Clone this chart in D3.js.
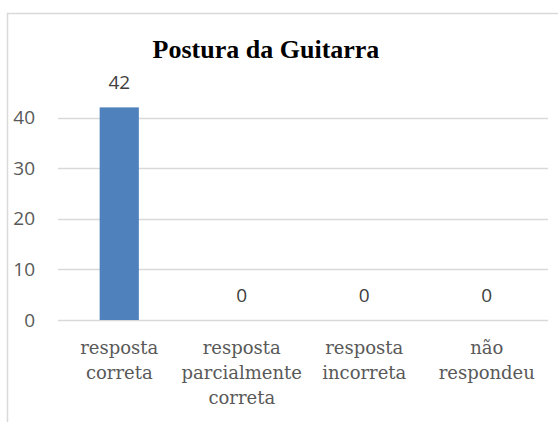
<!DOCTYPE html>
<html>
<head>
<meta charset="utf-8">
<script src="https://cdn.jsdelivr.net/npm/d3@7"></script>
<style>
  body { margin: 0; background: #fff; }
</style>
</head>
<body>
<div id="vis"></div>
<script>
var categories = [
  ['resposta', 'correta'],
  ['resposta', 'parcialmente', 'correta'],
  ['resposta', 'incorreta'],
  ['não', 'respondeu']
];
var values = [42, 0, 0, 0];
var yTicks = [0, 10, 20, 30, 40];
var title = 'Postura da Guitarra';

var width = 558,
  height = 422;

var svg = d3.select('#vis')
  .append('svg')
  .attr('width', width)
  .attr('height', height);

// chart frame (bottom and right fall outside the picture)
svg.append('path')
  .attr('d', 'M7.5,' + height + 'V13.5H' + width)
  .attr('fill', 'none')
  .attr('stroke', '#d9d9d9')
  .attr('stroke-width', 1.5);

var x_scale = d3.scaleBand()
  .domain(d3.range(categories.length))
  .range([58, 548])
  .paddingInner(0.68)
  .paddingOuter(0.34);

var y_scale = d3.scaleLinear()
  .domain([0, 40])
  .range([320, 117.5]);

// gridlines
svg.append('g')
  .selectAll('line')
  .data(yTicks)
  .enter()
  .append('line')
  .attr('x1', 58)
  .attr('x2', 548)
  .attr('y1', function(d) { return Math.round(y_scale(d)) + 0.5; })
  .attr('y2', function(d) { return Math.round(y_scale(d)) + 0.5; })
  .attr('stroke', '#d9d9d9')
  .attr('stroke-width', 1.5);

// y axis labels
var y_axis = d3.axisLeft(y_scale)
  .tickValues(yTicks)
  .tickSize(0)
  .tickPadding(23);

svg.append('g')
  .attr('class', 'y axis')
  .attr('transform', 'translate(58,0)')
  .call(y_axis)
  .call(function(g) { g.select('.domain').remove(); })
  .selectAll('text')
  .attr('fill', '#595959')
  .style('font-family', '"Open Sans", sans-serif')
  .style('font-size', '19px');

// bars
svg.selectAll('.bar')
  .data(values)
  .enter()
  .append('rect')
  .attr('class', 'bar')
  .attr('x', function(d, i) { return x_scale(i); })
  .attr('width', x_scale.bandwidth())
  .attr('y', function(d) { return y_scale(d); })
  .attr('height', function(d) { return y_scale(0) - y_scale(d); })
  .attr('fill', '#4f81bd');

// value labels
svg.selectAll('.val')
  .data(values)
  .enter()
  .append('text')
  .attr('class', 'val')
  .attr('x', function(d, i) { return x_scale(i) + x_scale.bandwidth() / 2; })
  .attr('y', function(d) { return y_scale(d) - 18; })
  .attr('text-anchor', 'middle')
  .attr('fill', '#404040')
  .style('font-family', '"Open Sans", sans-serif')
  .style('font-size', '19px')
  .text(function(d) { return d; });

// category labels
var cats = svg.selectAll('.cat')
  .data(categories)
  .enter()
  .append('text')
  .attr('class', 'cat')
  .attr('text-anchor', 'middle')
  .attr('fill', '#595959')
  .style('font-family', '"DejaVu Serif", serif')
  .style('font-size', '18px');

cats.selectAll('tspan')
  .data(function(d, i) {
    return d.map(function(t) { return { t: t, i: i }; });
  })
  .enter()
  .append('tspan')
  .attr('x', function(d) { return x_scale(d.i) + x_scale.bandwidth() / 2; })
  .attr('y', function(d, j) { return 354 + j * 25; })
  .text(function(d) { return d.t; });

svg.append('text')
  .attr('x', 266)
  .attr('y', 58)
  .attr('text-anchor', 'middle')
  .attr('fill', '#000')
  .style('font-family', '"Liberation Serif", serif')
  .style('font-weight', 'bold')
  .style('font-size', '26px')
  .text(title);
</script>
</body>
</html>
